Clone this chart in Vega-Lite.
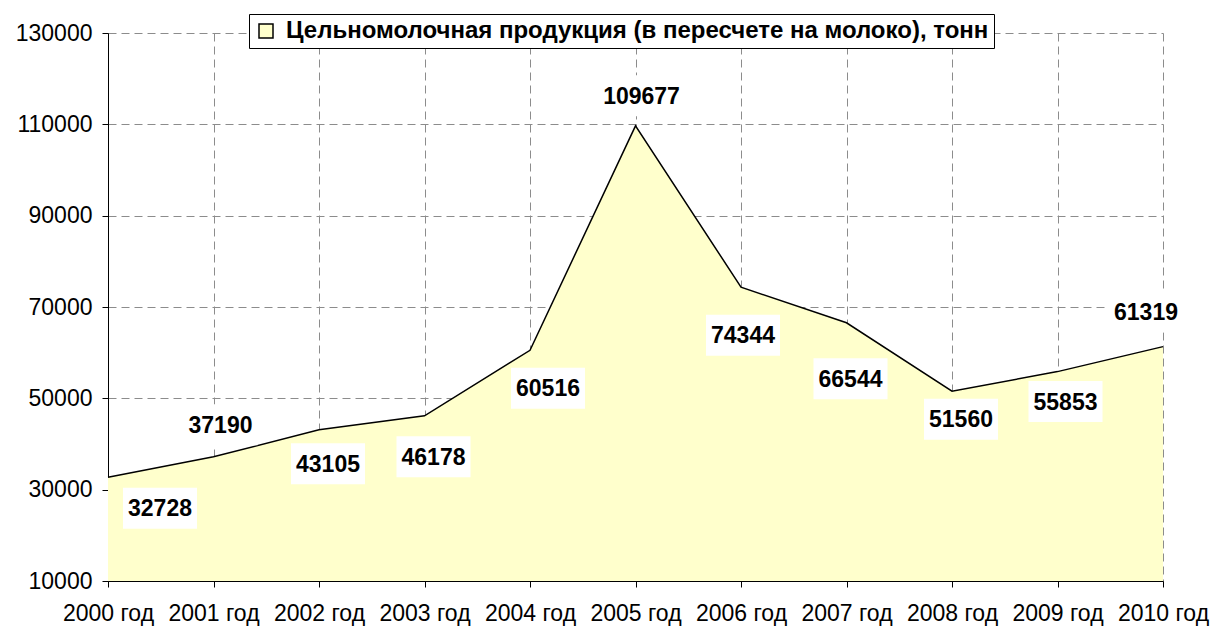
{
  "$schema": "https://vega.github.io/schema/vega-lite/v6.json",
  "autosize": {"type": "none"},
  "padding": {"left": 108, "top": 33, "right": 52, "bottom": 46},
  "width": 1055,
  "height": 548,
  "background": "white",
  "config": {
    "view": {"stroke": null},
    "font": "Liberation Sans",
    "axis": {
      "labelFont": "Liberation Sans",
      "labelColor": "black",
      "domainColor": "black",
      "tickColor": "black",
      "tickSize": 6,
      "gridColor": "#8c8c8c",
      "gridDash": [8, 5],
      "gridWidth": 1,
      "title": null
    }
  },
  "data": {
    "values": [
      {"year": "2000 год", "value": 32728},
      {"year": "2001 год", "value": 37190},
      {"year": "2002 год", "value": 43105},
      {"year": "2003 год", "value": 46178},
      {"year": "2004 год", "value": 60516},
      {"year": "2005 год", "value": 109677},
      {"year": "2006 год", "value": 74344},
      {"year": "2007 год", "value": 66544},
      {"year": "2008 год", "value": 51560},
      {"year": "2009 год", "value": 55853},
      {"year": "2010 год", "value": 61319}
    ]
  },
  "encoding": {
    "x": {
      "field": "year", "type": "ordinal",
      "scale": {"type": "point", "padding": 0},
      "axis": {"labelAngle": 0, "labelFontSize": 23, "labelPadding": 15, "grid": true, "labelBaseline": "top"}
    },
    "y": {
      "field": "value", "type": "quantitative",
      "scale": {"domain": [10000, 130000], "nice": false, "zero": false},
      "axis": {"values": [10000, 30000, 50000, 70000, 90000, 110000, 130000], "format": "d", "labelFontSize": 23, "labelPadding": 10, "grid": true}
    }
  },
  "layer": [
    {
      "mark": {"type": "area", "fill": "#FFFFCC", "opacity": 1},
      "encoding": {
        "y2": {"datum": 10000},
        "color": {
          "datum": "Цельномолочная продукция (в пересчете на молоко), тонн",
          "scale": {"range": ["#FFFFCC"]},
          "legend": {
            "orient": "none", "legendX": 141, "legendY": -19,
            "title": null, "fillColor": "white", "strokeColor": "black",
            "padding": 5, "symbolType": "square", "symbolSize": 196,
            "symbolStrokeColor": "black", "symbolStrokeWidth": 1.5, "symbolFillColor": "#FFFFCC",
            "labelFont": "Liberation Sans", "labelFontWeight": "bold", "labelFontSize": 24,
            "labelColor": "black", "labelLimit": 2000, "labelOffset": 8
          }
        }
      }
    },
    {"mark": {"type": "line", "color": "black", "strokeWidth": 1.5}, "encoding": {}},
    {"transform": [{"filter": "datum.year == '2000 год'"}], "layer": [
      {"mark": {"type": "point", "shape": "M-37,-20.5H37V20.5H-37Z", "size": 4, "filled": true, "fill": "white", "strokeWidth": 0, "opacity": 1, "xOffset": 52, "yOffset": 31}},
      {"mark": {"type": "text", "fontWeight": "bold", "fontSize": 23, "fill": "black", "baseline": "middle", "xOffset": 52, "yOffset": 32}, "encoding": {"text": {"field": "value", "type": "quantitative", "format": "d"}}}
    ]},
    {"transform": [{"filter": "datum.year == '2001 год'"}], "layer": [
      {"mark": {"type": "point", "shape": "M-37,-20.5H37V20.5H-37Z", "size": 4, "filled": true, "fill": "white", "strokeWidth": 0, "opacity": 1, "xOffset": 7, "yOffset": -32}},
      {"mark": {"type": "text", "fontWeight": "bold", "fontSize": 23, "fill": "black", "baseline": "middle", "xOffset": 7, "yOffset": -31}, "encoding": {"text": {"field": "value", "type": "quantitative", "format": "d"}}}
    ]},
    {"transform": [{"filter": "datum.year == '2002 год'"}], "layer": [
      {"mark": {"type": "point", "shape": "M-37,-20.5H37V20.5H-37Z", "size": 4, "filled": true, "fill": "white", "strokeWidth": 0, "opacity": 1, "xOffset": 9, "yOffset": 34}},
      {"mark": {"type": "text", "fontWeight": "bold", "fontSize": 23, "fill": "black", "baseline": "middle", "xOffset": 9, "yOffset": 35}, "encoding": {"text": {"field": "value", "type": "quantitative", "format": "d"}}}
    ]},
    {"transform": [{"filter": "datum.year == '2003 год'"}], "layer": [
      {"mark": {"type": "point", "shape": "M-37,-20.5H37V20.5H-37Z", "size": 4, "filled": true, "fill": "white", "strokeWidth": 0, "opacity": 1, "xOffset": 9, "yOffset": 41}},
      {"mark": {"type": "text", "fontWeight": "bold", "fontSize": 23, "fill": "black", "baseline": "middle", "xOffset": 9, "yOffset": 42}, "encoding": {"text": {"field": "value", "type": "quantitative", "format": "d"}}}
    ]},
    {"transform": [{"filter": "datum.year == '2004 год'"}], "layer": [
      {"mark": {"type": "point", "shape": "M-37,-20.5H37V20.5H-37Z", "size": 4, "filled": true, "fill": "white", "strokeWidth": 0, "opacity": 1, "xOffset": 18, "yOffset": 38}},
      {"mark": {"type": "text", "fontWeight": "bold", "fontSize": 23, "fill": "black", "baseline": "middle", "xOffset": 18, "yOffset": 39}, "encoding": {"text": {"field": "value", "type": "quantitative", "format": "d"}}}
    ]},
    {"transform": [{"filter": "datum.year == '2005 год'"}], "layer": [
      {"mark": {"type": "point", "shape": "M-43,-20.5H43V20.5H-43Z", "size": 4, "filled": true, "fill": "white", "strokeWidth": 0, "opacity": 1, "xOffset": 6, "yOffset": -30}},
      {"mark": {"type": "text", "fontWeight": "bold", "fontSize": 23, "fill": "black", "baseline": "middle", "xOffset": 6, "yOffset": -29}, "encoding": {"text": {"field": "value", "type": "quantitative", "format": "d"}}}
    ]},
    {"transform": [{"filter": "datum.year == '2006 год'"}], "layer": [
      {"mark": {"type": "point", "shape": "M-37,-20.5H37V20.5H-37Z", "size": 4, "filled": true, "fill": "white", "strokeWidth": 0, "opacity": 1, "xOffset": 2, "yOffset": 48}},
      {"mark": {"type": "text", "fontWeight": "bold", "fontSize": 23, "fill": "black", "baseline": "middle", "xOffset": 2, "yOffset": 49}, "encoding": {"text": {"field": "value", "type": "quantitative", "format": "d"}}}
    ]},
    {"transform": [{"filter": "datum.year == '2007 год'"}], "layer": [
      {"mark": {"type": "point", "shape": "M-37,-20.5H37V20.5H-37Z", "size": 4, "filled": true, "fill": "white", "strokeWidth": 0, "opacity": 1, "xOffset": 4, "yOffset": 56}},
      {"mark": {"type": "text", "fontWeight": "bold", "fontSize": 23, "fill": "black", "baseline": "middle", "xOffset": 4, "yOffset": 57}, "encoding": {"text": {"field": "value", "type": "quantitative", "format": "d"}}}
    ]},
    {"transform": [{"filter": "datum.year == '2008 год'"}], "layer": [
      {"mark": {"type": "point", "shape": "M-37,-20.5H37V20.5H-37Z", "size": 4, "filled": true, "fill": "white", "strokeWidth": 0, "opacity": 1, "xOffset": 9, "yOffset": 28}},
      {"mark": {"type": "text", "fontWeight": "bold", "fontSize": 23, "fill": "black", "baseline": "middle", "xOffset": 9, "yOffset": 29}, "encoding": {"text": {"field": "value", "type": "quantitative", "format": "d"}}}
    ]},
    {"transform": [{"filter": "datum.year == '2009 год'"}], "layer": [
      {"mark": {"type": "point", "shape": "M-37,-20.5H37V20.5H-37Z", "size": 4, "filled": true, "fill": "white", "strokeWidth": 0, "opacity": 1, "xOffset": 8, "yOffset": 30}},
      {"mark": {"type": "text", "fontWeight": "bold", "fontSize": 23, "fill": "black", "baseline": "middle", "xOffset": 8, "yOffset": 31}, "encoding": {"text": {"field": "value", "type": "quantitative", "format": "d"}}}
    ]},
    {"transform": [{"filter": "datum.year == '2010 год'"}], "layer": [
      {"mark": {"type": "point", "shape": "M-37,-20.5H37V20.5H-37Z", "size": 4, "filled": true, "fill": "white", "strokeWidth": 0, "opacity": 1, "xOffset": -17, "yOffset": -35}},
      {"mark": {"type": "text", "fontWeight": "bold", "fontSize": 23, "fill": "black", "baseline": "middle", "xOffset": -17, "yOffset": -34}, "encoding": {"text": {"field": "value", "type": "quantitative", "format": "d"}}}
    ]}
  ]
}
